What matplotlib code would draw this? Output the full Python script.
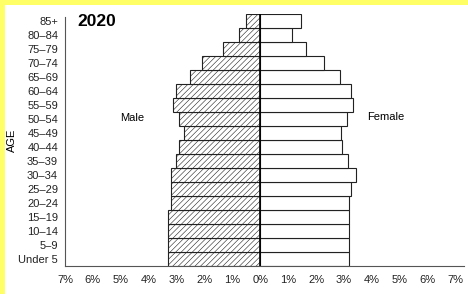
import numpy as np
import matplotlib
matplotlib.use('Agg')
import matplotlib.pyplot as plt

# Age groups, bottom to top
ages = ['Under 5', '5\u20139', '10\u201314', '15\u201319', '20\u201324', '25\u201329',
        '30\u201334', '35\u201339', '40\u201344', '45\u201349', '50\u201354', '55\u201359',
        '60\u201364', '65\u201369', '70\u201374', '75\u201379', '80\u201384', '85+']

# Percent of population
male = [3.32, 3.32, 3.32, 3.32, 3.19, 3.19, 3.19, 3.02, 2.93, 2.73,
        2.93, 3.13, 3.01, 2.52, 2.09, 1.34, 0.77, 0.52]
female = [3.18, 3.18, 3.18, 3.18, 3.18, 3.26, 3.43, 3.14, 2.93, 2.89,
          3.11, 3.32, 3.24, 2.87, 2.29, 1.63, 1.15, 1.45]

xticks = [-7, -6, -5, -4, -3, -2, -1, 0, 1, 2, 3, 4, 5, 6, 7]
xticklabels = ['%d%%' % abs(v) for v in xticks]

plt.rcParams['font.family'] = ['Liberation Sans', 'DejaVu Sans']
plt.rcParams['hatch.linewidth'] = 0.4

fig = plt.figure(figsize=(4.68, 2.94), dpi=100)
fig.patch.set_facecolor('white')

# yellow frame on top and left
fig.patches.append(plt.Rectangle((0, 0), 5 / 468, 1, transform=fig.transFigure,
                                 facecolor='#ffff66', edgecolor='none', zorder=0))
fig.patches.append(plt.Rectangle((0, 1 - 5 / 294), 1, 5 / 294, transform=fig.transFigure,
                                 facecolor='#ffff66', edgecolor='none', zorder=0))

ax = fig.add_axes([65 / 468, 28 / 294, 399 / 468, 252 / 294])

y = np.arange(len(ages))
ax.barh(y, [-m for m in male], height=1.0, color='white', edgecolor='#222222',
        linewidth=0.8, hatch='//////')
ax.barh(y, female, height=1.0, color='white', edgecolor='#222222', linewidth=0.8)
ax.axvline(0, color='black', linewidth=1.2)

ax.set_xlim(-6.9, 7.3)
ax.set_ylim(-0.5, 17.5)
ax.set_xticks(xticks)
ax.set_xticklabels(xticklabels, fontsize=8)
ax.set_yticks(y)
ax.set_yticklabels(ages, fontsize=8)
ax.tick_params(axis='both', length=0, colors='#222222')
ax.tick_params(axis='x', pad=6.5)
ax.tick_params(axis='y', pad=5)

for s in ['top', 'right']:
    ax.spines[s].set_visible(False)
ax.spines['left'].set_color('#555555')
ax.spines['left'].set_linewidth(0.8)
ax.spines['left'].set_bounds(-0.5, 17.3)
ax.spines['bottom'].set_color('#555555')
ax.spines['bottom'].set_linewidth(0.8)

ax.text(77 / 468, 1 - 22 / 294, '2020', transform=fig.transFigure, fontsize=12.5,
        fontweight='bold', va='center', ha='left')
ax.text(132 / 468, 1 - 118 / 294, 'Male', transform=fig.transFigure, fontsize=8,
        va='center', ha='center')
ax.text(386 / 468, 1 - 117 / 294, 'Female', transform=fig.transFigure, fontsize=8,
        va='center', ha='center')
ax.text(12 / 468, 1 - 140 / 294, 'AGE', transform=fig.transFigure, fontsize=8,
        va='center', ha='center', rotation=90)

fig.savefig('out.png', dpi=100)
